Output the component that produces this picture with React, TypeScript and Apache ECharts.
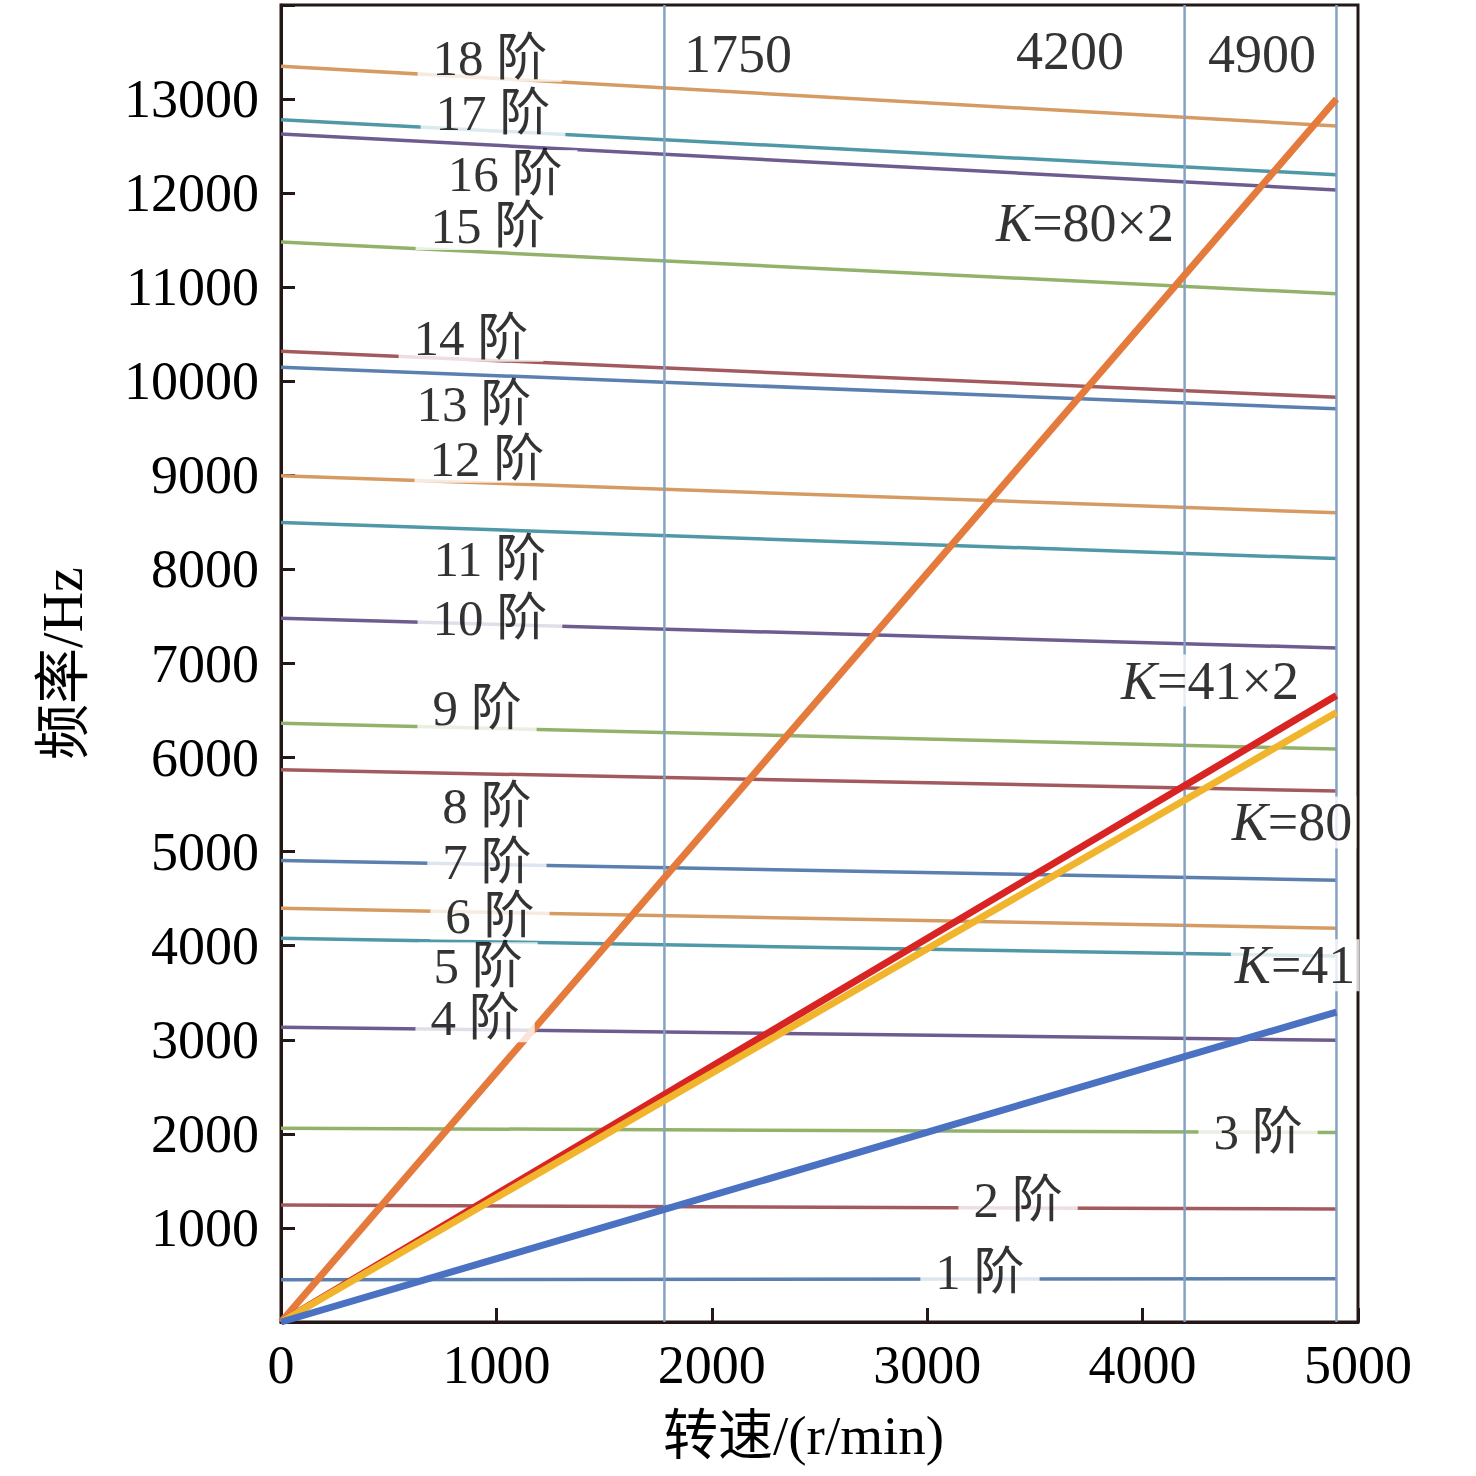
import * as echarts from "echarts";
import { useEffect, useRef } from "react";

// natural frequency of each mode (Hz) at 0 r/min and at 4900 r/min
const modeNames = ["1 阶", "2 阶", "3 阶", "4 阶", "5 阶", "6 阶", "7 阶", "8 阶", "9 阶", "10 阶", "11 阶", "12 阶", "13 阶", "14 阶", "15 阶", "16 阶", "17 阶", "18 阶"];
const modeStart = [450, 1243, 2060, 3133, 4079, 4397, 4907, 5870, 6365, 7480, 8500, 8995, 10150, 10320, 11480, 12630, 12780, 13350];
const modeEnd = [460, 1200, 2015, 2995, 3890, 4185, 4695, 5645, 6090, 7165, 8115, 8603, 9708, 9830, 10930, 12034, 12195, 12714];
const modeLabelX = [3245, 3422, 4536, 901, 915, 970, 956, 956, 910, 970, 970, 956, 896, 882, 961, 1040, 984, 970];
const modeLabelY = [531, 1296, 2018, 3229, 3781, 4320, 4895, 5490, 6522, 7488, 8115, 9177, 9761, 10462, 11652, 12204, 12850, 13440];

// excitation lines, read at the right end (4900 r/min)
const speedNames = ["80×2", "41×2", "80", "41"];
const speedEnd = [13000, 6660, 6480, 3295];
const speedLabelX = [3733, 4313, 4694, 4708];
const speedLabelY = [11683, 6819, 5311, 3792];

// marked rotating speeds: where the vertical line is drawn, and its caption
const markAt = [1780, 4195, 4900];
const markText = ["1750", "4200", "4900"];
const markLabelX = [2122, 3663, 4554];
const markLabelY = [13478, 13510, 13478];

const endSpeed = 4900;

const modeColors = ["#5b7fae", "#a35a5e", "#92b26c", "#6e5c8f", "#4f98a8", "#d69b63"];
const speedColors = ["#e47a3c", "#d92424", "#f0b52c", "#4b72c2"];

const font = "'Liberation Serif', 'Noto Sans CJK SC', serif";

export default function App() {
  const chartRef = useRef<HTMLDivElement>(null);

  useEffect(() => {
    if (!chartRef.current) return;
    const chart = echarts.init(chartRef.current, null, { renderer: "svg" });

    const modeSeries = modeNames.map((name, i) => ({
      name,
      type: "line",
      data: [
        [0, modeStart[i]],
        [endSpeed, modeEnd[i]]
      ],
      symbol: "none",
      silent: true,
      z: 2,
      lineStyle: { color: modeColors[i % 6], width: 3.5 }
    }));

    const markSeries = markAt.map((s) => ({
      type: "line",
      data: [
        [s, 0],
        [s, 14000]
      ],
      symbol: "none",
      silent: true,
      z: 3,
      lineStyle: { color: "#86a2c2", width: 2.5 }
    }));

    const speedSeries = speedNames.map((name, i) => ({
      name,
      type: "line",
      data: [
        [0, 0],
        [endSpeed, speedEnd[i]]
      ],
      symbol: "none",
      silent: true,
      z: 4,
      lineStyle: { color: speedColors[i], width: 7 }
    }));

    const labelData = [
      ...modeNames.map((n, i) => ({
        value: [modeLabelX[i], modeLabelY[i]],
        label: {
          formatter: n,
          backgroundColor: "#fff",
          padding: [0, 15],
          fontSize: 51,
          lineHeight: 48
        }
      })),
      ...speedNames.map((n, i) => ({
        value: [speedLabelX[i], speedLabelY[i]],
        label: { formatter: "{k|K}=" + n, backgroundColor: "#fff", padding: [0, 4] }
      })),
      ...markText.map((t, i) => ({
        value: [markLabelX[i], markLabelY[i]],
        label: { formatter: t }
      }))
    ];

    chart.setOption({
      animation: false,
      backgroundColor: "#fff",
      grid: {
        left: 281,
        right: 118,
        top: 5,
        bottom: 154,
        show: true,
        borderColor: "#231815",
        borderWidth: 3
      },
      xAxis: {
        type: "value",
        min: 0,
        max: 5000,
        interval: 1000,
        name: "转速/(r/min)",
        nameLocation: "middle",
        nameGap: 86,
        nameTextStyle: { fontFamily: font, fontSize: 55, color: "#000", padding: [0, 32, 0, 0] },
        axisLine: { lineStyle: { color: "#231815", width: 3 } },
        axisTick: { inside: true, length: 14, lineStyle: { width: 3, color: "#231815" } },
        axisLabel: {
          fontFamily: font,
          fontSize: 54,
          color: "#000",
          margin: 16,
          formatter: (v: number) => String(v)
        },
        splitLine: { show: false }
      },
      yAxis: {
        type: "value",
        min: 0,
        max: 14000,
        interval: 1000,
        name: "频率/Hz",
        nameLocation: "middle",
        nameRotate: 90,
        nameGap: 190,
        nameTextStyle: { fontFamily: font, fontSize: 56, color: "#000" },
        axisLine: { lineStyle: { color: "#231815", width: 3 } },
        axisTick: { inside: true, length: 14, lineStyle: { width: 3, color: "#231815" } },
        axisLabel: {
          fontFamily: font,
          fontSize: 54,
          color: "#000",
          margin: 22,
          formatter: (v: number) => (v === 0 || v === 14000 ? "" : String(v))
        },
        splitLine: { show: false }
      },
      series: [
        ...modeSeries,
        ...markSeries,
        ...speedSeries,
        {
          type: "scatter",
          symbolSize: 0,
          silent: true,
          z: 10,
          data: labelData,
          label: {
            show: true,
            position: "inside",
            fontFamily: font,
            fontSize: 54,
            lineHeight: 52,
            color: "#000",
            textBorderWidth: 0,
            rich: {
              k: { fontFamily: font, fontSize: 54, lineHeight: 52, fontStyle: "italic", color: "#000", textBorderWidth: 0 }
            }
          }
        }
      ]
    });

    return () => {
      chart.dispose();
    };
  }, []);

  return (
    <div
      ref={chartRef}
      style={{ position: "fixed", left: 0, top: 0, width: 1476, height: 1476 }}
    />
  );
}
